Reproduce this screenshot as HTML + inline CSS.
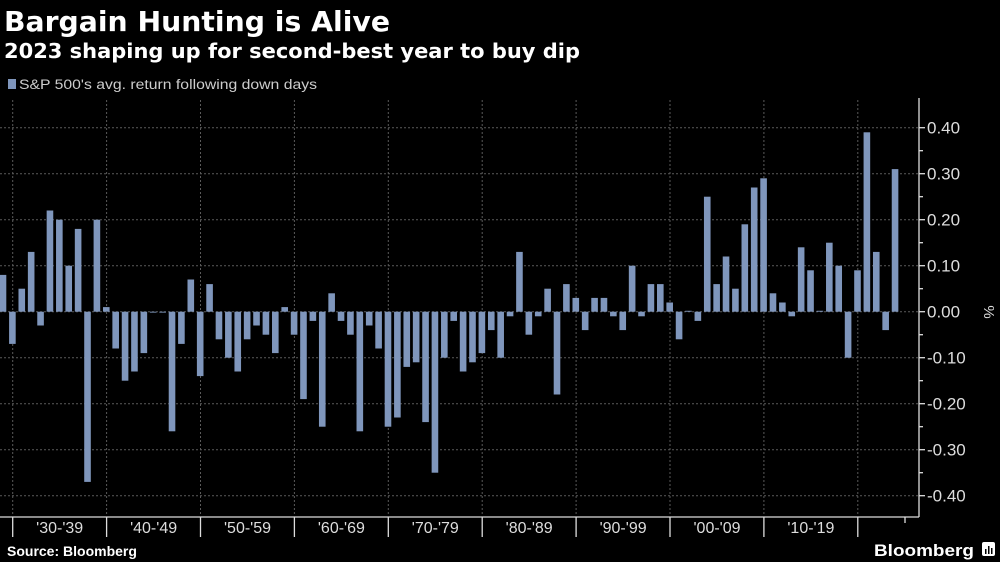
<!DOCTYPE html>
<html><head><meta charset="utf-8"><style>
html,body{margin:0;padding:0;background:#000;width:1000px;height:562px;overflow:hidden}
svg{display:block}
text{font-family:"Liberation Sans",sans-serif}
</style></head><body>
<svg id="c" width="1000" height="562" xmlns="http://www.w3.org/2000/svg">
<rect width="1000" height="562" fill="#000"/>
<text x="4" y="31" font-size="28" font-weight="bold" fill="#fff" style="font-family:'DejaVu Sans',sans-serif" textLength="386" lengthAdjust="spacingAndGlyphs">Bargain Hunting is Alive</text>
<text x="4" y="58" font-size="20" font-weight="bold" fill="#fff" style="font-family:'DejaVu Sans',sans-serif" textLength="576" lengthAdjust="spacingAndGlyphs">2023 shaping up for second-best year to buy dip</text>
<rect x="8" y="79" width="8" height="10" fill="#7f96bc"/>
<text x="19" y="89" font-size="13.5" fill="#ccc" textLength="298" lengthAdjust="spacingAndGlyphs">S&amp;P 500's avg. return following down days</text>
<g id="grid" stroke="#5a5a5a" stroke-width="1" stroke-dasharray="2,2"></g>
<g id="bars" fill="#7f96bc"></g>
<g id="axis" stroke="#ddd" stroke-width="1.3" fill="none"></g>
<g id="labels" fill="#ddd" font-size="17"></g>
<text x="7" y="556" font-size="14" font-weight="bold" fill="#fff">Source: Bloomberg</text>
<text x="874" y="556" font-size="17" font-weight="bold" fill="#fff" textLength="100" lengthAdjust="spacingAndGlyphs">Bloomberg</text>
<rect x="982" y="542" width="13" height="14" rx="2" fill="#fff"/>
<rect x="985" y="549" width="1.5" height="5" fill="#000"/><rect x="988" y="546" width="1.5" height="8" fill="#000"/><rect x="991" y="548" width="1.5" height="6" fill="#000"/>
</svg>
<script>
var v=[0.08,-0.07,0.05,0.13,-0.03,0.22,0.20,0.10,0.18,-0.37,0.20,0.01,
-0.08,-0.15,-0.13,-0.09,-0.002,-0.002,-0.26,-0.07,0.07,-0.14,
0.06,-0.06,-0.10,-0.13,-0.06,-0.03,-0.05,-0.09,0.01,-0.05,
-0.19,-0.02,-0.25,0.04,-0.02,-0.05,-0.26,-0.03,-0.08,-0.25,
-0.23,-0.12,-0.11,-0.24,-0.35,-0.10,-0.02,-0.13,-0.11,-0.09,
-0.04,-0.10,-0.01,0.13,-0.05,-0.01,0.05,-0.18,0.06,0.03,
-0.04,0.03,0.03,-0.01,-0.04,0.10,-0.01,0.06,0.06,0.02,
-0.06,0.002,-0.02,0.25,0.06,0.12,0.05,0.19,0.27,0.29,
0.04,0.02,-0.01,0.14,0.09,0.002,0.15,0.10,-0.10,0.09,
0.39,0.13,-0.04,0.31];
var NS="http://www.w3.org/2000/svg";
function el(p,t,a){var e=document.createElementNS(NS,t);for(var k in a)e.setAttribute(k,a[k]);p.appendChild(e);return e;}
var Z=311.7,S=460,step=9.39;
var g=document.getElementById('grid'),b=document.getElementById('bars'),ax=document.getElementById('axis'),lb=document.getElementById('labels');
for(var i=-4;i<=4;i++){var y=Z-i*0.1*S;el(g,'line',{x1:0,x2:919,y1:y,y2:y});
 el(ax,'line',{x1:919,x2:925,y1:y,y2:y});
 var t=el(lb,'text',{x:927,y:y+6,'font-size':17});t.textContent=(i<0?'-':'')+Math.abs(i/10).toFixed(2);
 if(i<4){var y2=y-0.05*S;el(ax,'line',{x1:919,x2:923,y1:y2,y2:y2});}}
for(var k=0;k<10;k++){var x=12.7+k*93.9;el(g,'line',{x1:x,x2:x,y1:100,y2:516});}
for(var i=0;i<v.length;i++){var c=3+i*step,h=Math.abs(v[i])*S,y=v[i]>=0?Z-h:Z;el(b,'rect',{x:c-3.3,y:y,width:6.6,height:Math.max(h,0.8)});}
el(ax,'line',{x1:919,x2:919,y1:98,y2:517});
el(ax,'line',{x1:0,x2:919,y1:517,y2:517});
var dec=["'30-'39","'40-'49","'50-'59","'60-'69","'70-'79","'80-'89","'90-'99","'00-'09","'10-'19"];
for(var k=0;k<10;k++){var x=12.7+k*93.9;el(ax,'line',{x1:x,x2:x,y1:517,y2:537});
 if(k<9){var t=el(lb,'text',{x:x+47,y:533,'text-anchor':'middle','font-size':16});t.textContent=dec[k];}}
el(ax,'line',{x1:905,x2:905,y1:517,y2:523});
var p=el(lb,'text',{x:0,y:0,'font-size':15,transform:'translate(984,312) rotate(90)','text-anchor':'middle'});p.textContent='%';
</script>
</body></html>
